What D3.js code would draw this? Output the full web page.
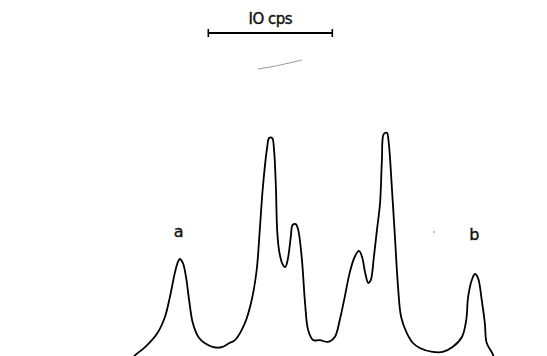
<!DOCTYPE html>
<html>
<head>
<meta charset="utf-8">
<script src="https://cdn.jsdelivr.net/npm/d3@7"></script>
<style>
  html, body { margin: 0; padding: 0; background: #fff; }
  svg { display: block; }
</style>
</head>
<body>
<div id="chart"></div>
<script>
// trace: shift in cps, intensity in arbitrary units
const shift = [
  10.7, 10.9, 11.7, 12.7, 13.3, 13.7, 14.1, 14.35, 14.5, 14.75, 15.0, 15.25, 15.55, 16.0, 16.5, 17.2,
  17.9, 18.5, 18.95, 19.75, 20.3, 20.7, 20.95, 21.2, 21.55, 21.7, 21.95, 22.1, 22.25, 22.35, 22.5,
  22.75, 23.0, 23.2, 23.45, 23.6, 23.85, 24.05, 24.35, 24.6, 24.85, 25.25, 25.8, 26.45, 27.0, 27.4,
  27.8, 28.2, 28.6, 28.95, 29.2, 29.45, 29.7, 29.9, 30.15, 30.4, 30.65, 30.8, 30.95, 31.2, 31.35,
  31.6, 31.85, 32.1, 32.35, 32.8, 33.3, 33.85, 34.9, 35.7, 36.5, 37.25, 37.6, 37.75, 38.05, 38.3,
  38.55, 38.85, 39.1, 39.25, 39.7, 39.85
];
const intensity = [
  -0.9, 0.4, 4.0, 10.3, 17.4, 26.3, 37.1, 42.0, 43.3, 41.5, 35.3, 25.0, 14.7, 8.5, 5.8, 4.0,
  4.0, 5.8, 7.1, 14.7, 25.0, 38.4, 56.3, 75.4, 93.3, 97.3, 97.3, 92.0, 75.4, 56.3, 47.3,
  41.5, 39.7, 42.9, 53.1, 58.5, 58.9, 56.3, 42.9, 23.7, 11.6, 7.1, 7.1, 6.3, 8.5, 16.1,
  26.3, 37.1, 44.2, 46.9, 44.2, 37.1, 32.6, 33.9, 44.2, 56.3, 68.3, 87.5, 99.1, 99.6, 95.1,
  75.4, 53.1, 30.8, 17.4, 10.3, 5.8, 3.6, 1.8, 1.8, 4.0, 8.5, 16.1, 26.3, 33.9, 36.6,
  34.8, 25.0, 14.7, 5.8, 1.3, -0.9
];

// peak labels
const peakLabels = ["a", "b"];
const labelShift = [14.4, 38.25];
const labelIntensity = [53, 52];

// scale bar
const scaleBarText = "IO cps";
const scaleBarStart = 16.8;
const scaleBarLength = 10;

// faint pen stroke under the scale bar
const penShift = [20.8, 21.8, 23.0, 24.35];
const penIntensity = [128.1, 129.0, 130.4, 132.1];

const width = 547, height = 356;

const svg = d3.select("#chart").append("svg")
  .attr("width", width)
  .attr("height", height);

const x = d3.scaleLinear().domain([0, 44]).range([0, 545.6]);
const y = d3.scaleLinear().domain([0, 100]).range([356, 132]);

const pts = shift.map((s, i) => [s, intensity[i]]);

const line = d3.line()
  .x(d => x(d[0]))
  .y(d => y(d[1]))
  .curve(d3.curveCatmullRom.alpha(0.5));

svg.append("path")
  .datum(pts)
  .attr("fill", "none")
  .attr("stroke", "#000")
  .attr("stroke-width", 1.8)
  .attr("stroke-linejoin", "round")
  .attr("d", line);

// labels
svg.selectAll("text.peak")
  .data(peakLabels)
  .enter()
  .append("text")
  .attr("class", "peak")
  .attr("x", (d, i) => x(labelShift[i]))
  .attr("y", (d, i) => y(labelIntensity[i]))
  .attr("text-anchor", "middle")
  .attr("font-family", "DejaVu Sans, sans-serif")
  .attr("font-size", 16)
  .attr("fill", "#111")
  .attr("stroke", "#111")
  .attr("stroke-width", 0.4)
  .text(d => d);

// scale bar
const bar = svg.append("g");
const bx0 = x(scaleBarStart), bx1 = x(scaleBarStart + scaleBarLength), by = 33;
bar.append("line")
  .attr("x1", bx0).attr("x2", bx1)
  .attr("y1", by).attr("y2", by)
  .attr("stroke", "#000").attr("stroke-width", 2);
[bx0, bx1].forEach(bx => {
  bar.append("line")
    .attr("x1", bx).attr("x2", bx)
    .attr("y1", by - 4).attr("y2", by + 4)
    .attr("stroke", "#000").attr("stroke-width", 1.6);
});
bar.append("text")
  .attr("x", (bx0 + bx1) / 2)
  .attr("y", 24)
  .attr("text-anchor", "middle")
  .attr("font-family", "DejaVu Sans, sans-serif")
  .attr("font-size", 15)
  .attr("letter-spacing", -0.5)
  .attr("fill", "#111")
  .attr("stroke", "#111")
  .attr("stroke-width", 0.4)
  .text(scaleBarText);

// faint stroke
svg.append("path")
  .datum(penShift.map((s, i) => [s, penIntensity[i]]))
  .attr("fill", "none")
  .attr("stroke", "#999")
  .attr("stroke-width", 1)
  .attr("d", d3.line().x(d => x(d[0])).y(d => y(d[1])).curve(d3.curveMonotoneX));

// speck
svg.append("rect")
  .attr("x", 433.5).attr("y", 231)
  .attr("width", 1).attr("height", 2)
  .attr("fill", "#888");
</script>
</body>
</html>
